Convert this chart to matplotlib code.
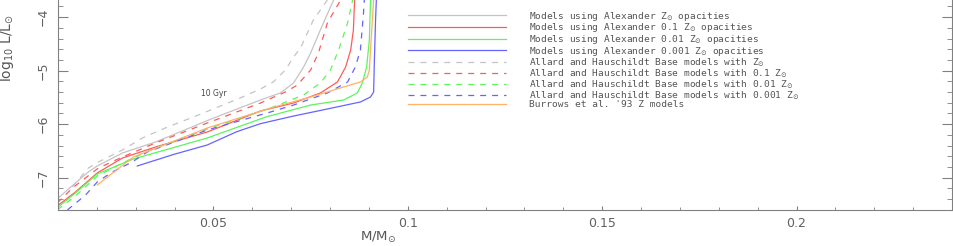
# brown dwarf cooling tracks at 10 Gyr
import numpy as np
import matplotlib.pyplot as plt
from matplotlib.ticker import MultipleLocator

plt.rcParams['font.family'] = ['DejaVu Sans']
plt.rcParams['lines.scale_dashes'] = False

# Alexander opacity models (solid)
alex_z1_m = [0.0101, 0.0127, 0.0178, 0.0201, 0.0266, 0.0351, 0.0500, 0.0621, 0.0672, 0.0706, 0.0732, 0.0750, 0.0775, 0.0809]
alex_z1_l = [-7.379, -7.211, -6.893, -6.781, -6.538, -6.333, -5.886, -5.548, -5.417, -5.230, -4.931, -4.669, -4.239, -3.679]

alex_z01_m = [0.0098, 0.0145, 0.0201, 0.0266, 0.0351, 0.0484, 0.0621, 0.0706, 0.0775, 0.0819, 0.0840, 0.0853, 0.0860, 0.0863]
alex_z01_l = [-7.529, -7.267, -6.912, -6.632, -6.426, -6.146, -5.753, -5.604, -5.417, -5.211, -4.931, -4.613, -4.239, -3.679]

alex_z001_m = [0.0098, 0.0145, 0.0201, 0.0294, 0.0484, 0.0634, 0.0750, 0.0835, 0.0870, 0.0883, 0.0894, 0.0901, 0.0904]
alex_z001_l = [-7.566, -7.286, -6.931, -6.650, -6.258, -5.867, -5.642, -5.548, -5.417, -5.230, -4.931, -4.426, -3.679]

alex_z0001_m = [0.0304, 0.0400, 0.0484, 0.0560, 0.0621, 0.0706, 0.0793, 0.0878, 0.0904, 0.0912, 0.0914, 0.0917, 0.0919]
alex_z0001_l = [-6.781, -6.560, -6.389, -6.140, -5.990, -5.848, -5.716, -5.585, -5.492, -5.398, -4.800, -4.052, -3.679]

# Allard & Hauschildt base models (dashed)
ah_z1_m = [0.0137, 0.0178, 0.0204, 0.0266, 0.0317, 0.0376, 0.0461, 0.0569, 0.0621, 0.0654, 0.0685, 0.0706, 0.0724, 0.0757, 0.0793]
ah_z1_l = [-7.174, -6.819, -6.707, -6.482, -6.258, -6.071, -5.829, -5.510, -5.342, -5.211, -4.987, -4.744, -4.576, -4.052, -3.679]

ah_z01_m = [0.0098, 0.0137, 0.0204, 0.0266, 0.0351, 0.0484, 0.0621, 0.0685, 0.0716, 0.0750, 0.0770, 0.0793, 0.0827]
ah_z01_l = [-7.473, -7.193, -6.819, -6.613, -6.351, -5.978, -5.604, -5.398, -5.267, -4.987, -4.669, -4.108, -3.679]

ah_z001_m = [0.0098, 0.0145, 0.0201, 0.0266, 0.0338, 0.0484, 0.0647, 0.0732, 0.0775, 0.0801, 0.0822, 0.0845, 0.0858]
ah_z001_l = [-7.604, -7.342, -6.968, -6.725, -6.482, -6.090, -5.698, -5.454, -5.230, -4.987, -4.613, -4.108, -3.679]

ah_z0001_m = [0.0124, 0.0171, 0.0201, 0.0240, 0.0291, 0.0330, 0.0484, 0.0647, 0.0706, 0.0793, 0.0845, 0.0865, 0.0878, 0.0886, 0.0888]
ah_z0001_l = [-7.604, -7.323, -7.080, -6.893, -6.706, -6.519, -6.108, -5.772, -5.642, -5.417, -5.211, -4.931, -4.613, -3.921, -3.679]

# Burrows et al. '93
burrows_m = [0.0201, 0.0294, 0.0484, 0.0647, 0.0750, 0.0835, 0.0878, 0.0896, 0.0901, 0.0904, 0.0912]
burrows_l = [-7.136, -6.613, -6.071, -5.698, -5.492, -5.305, -5.211, -5.118, -4.987, -4.613, -3.679]

labels = [r'Models using Alexander Z$_{\odot}$ opacities',
          r'Models using Alexander 0.1 Z$_{\odot}$ opacities',
          r'Models using Alexander 0.01 Z$_{\odot}$ opacities',
          r'Models using Alexander 0.001 Z$_{\odot}$ opacities',
          r'Allard and Hauschildt Base models with Z$_{\odot}$',
          r'Allard and Hauschildt Base models with 0.1 Z$_{\odot}$',
          r'Allard and Hauschildt Base models with 0.01 Z$_{\odot}$',
          r'Allard and Hauschildt Base models with 0.001 Z$_{\odot}$',
          "Burrows et al. '93 Z models"]

gray = '#c4c4c4'
red = '#ff5a5a'
green = '#5cf55c'
blue = '#6464ff'
orange = '#ffb266'

fig = plt.figure(figsize=(9.54, 2.46), dpi=100)
ax = fig.add_axes([58/954, 36/246, 894/954, 210/246])

lw = 0.9
dash = (4.3, 4.3)
ax.plot(alex_z1_m, alex_z1_l, color=gray, lw=lw, label=labels[0])
ax.plot(alex_z01_m, alex_z01_l, color=red, lw=lw, label=labels[1])
ax.plot(alex_z001_m, alex_z001_l, color=green, lw=lw, label=labels[2])
ax.plot(alex_z0001_m, alex_z0001_l, color=blue, lw=lw, label=labels[3])
ax.plot(ah_z1_m, ah_z1_l, color=gray, lw=lw, dashes=dash, label=labels[4])
ax.plot(ah_z01_m, ah_z01_l, color=red, lw=lw, dashes=dash, label=labels[5])
ax.plot(ah_z001_m, ah_z001_l, color=green, lw=lw, dashes=dash, label=labels[6])
ax.plot(ah_z0001_m, ah_z0001_l, color=blue, lw=lw, dashes=dash, label=labels[7])
ax.plot(burrows_m, burrows_l, color=orange, lw=lw, label=labels[8])

ax.text(0.05, -5.435, '10 Gyr', fontsize=5.5, color='#444444', ha='center', va='center')

ax.set_xlim(0.01, 0.24)
ax.set_ylim(-7.604, -3.679)

axcol = '#808080'
for s in ['left', 'bottom', 'right']:
    ax.spines[s].set_color(axcol)
    ax.spines[s].set_linewidth(0.8)
ax.spines['top'].set_visible(False)

ax.xaxis.set_major_locator(MultipleLocator(0.05))
ax.xaxis.set_minor_locator(MultipleLocator(0.01))
ax.yaxis.set_major_locator(MultipleLocator(1))
ax.yaxis.set_minor_locator(MultipleLocator(0.2))
ax.set_xticks([0.05, 0.1, 0.15, 0.2])
ax.set_xticklabels(['0.05', '0.1', '0.15', '0.2'])
ax.tick_params(axis='both', which='both', direction='in', color=axcol, labelcolor='#606060', labelsize=9)
ax.tick_params(axis='x', which='major', length=3, pad=5)
ax.tick_params(axis='x', which='minor', length=2)
ax.tick_params(axis='y', which='major', length=7, right=True, pad=6)
ax.tick_params(axis='y', which='minor', length=3.6, right=True)
for t in ax.get_yticklabels():
    t.set_rotation(90)
    t.set_va('center')

ax.set_xlabel(r'M/M$_{\odot}$', fontsize=9.5, color='#555555')
ax.xaxis.set_label_coords(0.358, -0.095)
ax.set_ylabel(r'log$_{10}$ L/L$_{\odot}$', fontsize=10, color='#555555')
ax.yaxis.set_label_coords(-0.047, 0.77)

leg = fig.legend(loc='upper left', bbox_to_anchor=(404/954, 1 - 6/246), frameon=False,
                 prop={'family': 'DejaVu Sans Mono', 'size': 6.8},
                 handlelength=10.4, handletextpad=2.4, labelspacing=-0.15,
                 borderaxespad=0)
for t in leg.get_texts():
    t.set_color('#555555')

fig.savefig('out.png', dpi=100)
